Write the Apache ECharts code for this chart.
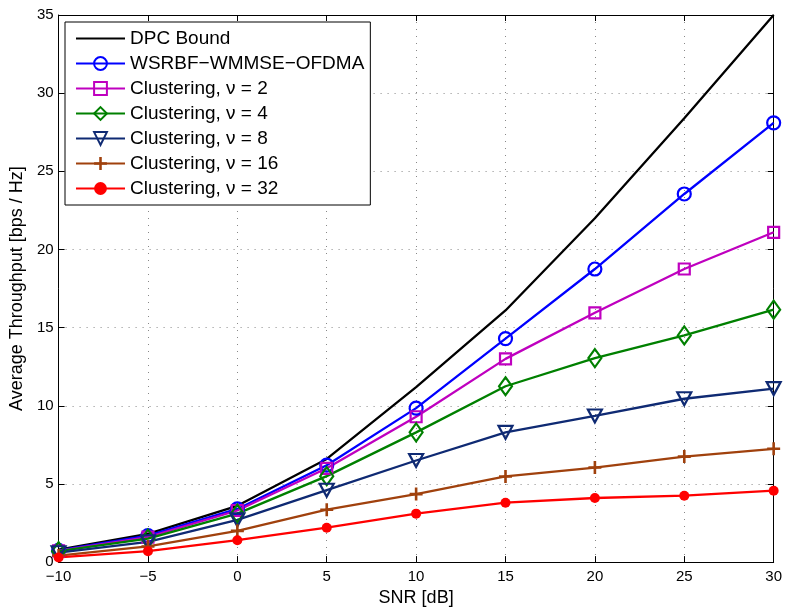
<!DOCTYPE html>
<html>
<head>
<meta charset="utf-8">
<script src="https://cdn.jsdelivr.net/npm/echarts@6/dist/echarts.min.js"></script>
<style>
html, body { margin: 0; padding: 0; background: #fff; }
#chart { width: 785px; height: 612px; }
</style>
</head>
<body>
<div id="chart"></div>
<script>
// SNR points (dB)
var snr = [-10, -5, 0, 5, 10, 15, 20, 25, 30];

var dpcBound = [0.8, 1.8, 3.6, 6.6, 11.2, 16.1, 22.0, 28.4, 35.0];
var wsrbf = [0.75, 1.7, 3.4, 6.2, 9.85, 14.3, 18.75, 23.55, 28.1];
var clust2 = [0.72, 1.6, 3.3, 6.0, 9.3, 13.0, 15.95, 18.75, 21.1];
var clust4 = [0.7, 1.5, 3.1, 5.5, 8.3, 11.25, 13.05, 14.5, 16.15];
var clust8 = [0.6, 1.3, 2.7, 4.6, 6.5, 8.3, 9.35, 10.45, 11.1];
var clust16 = [0.42, 1.0, 2.0, 3.35, 4.35, 5.48, 6.05, 6.75, 7.25];
var clust32 = [0.3, 0.7, 1.4, 2.2, 3.1, 3.8, 4.1, 4.25, 4.57];

var names = ["DPC Bound", "WSRBF\u2212WMMSE\u2212OFDMA", "Clustering, \u03bd = 2",
    "Clustering, \u03bd = 4", "Clustering, \u03bd = 8", "Clustering, \u03bd = 16", "Clustering, \u03bd = 32"];

var font = "Liberation Sans, Arial, sans-serif";
var plusPath = "path://M4,0H6V4H10V6H6V10H4V6H0V4H4Z";

function pairs(arr) {
    return arr.map((v, i) => [snr[i], v]);
}

function minus(v) {
    return String(v).replace("-", "\u2212");
}

function makeLine(name, data, color, symbol, size, hollow, rotate) {
    return {
        name: name,
        type: "line",
        data: pairs(data),
        symbol: symbol,
        symbolSize: size,
        symbolRotate: rotate || 0,
        showSymbol: symbol != "none",
        lineStyle: { color: color, width: 2.3 },
        itemStyle: hollow ? {
            color: "rgba(255,255,255,0)",
            borderColor: color,
            borderWidth: 2.2
        } : { color: color, borderWidth: 0 },
        emphasis: { disabled: true },
        z: 2
    };
}

var dotted = { show: true, lineStyle: { color: "#888", type: [1, 6], width: 1 } };

// legend entries; the DPC one has no marker
var legendData = names.map((n, i) => i == 0 ? { name: n, itemStyle: { opacity: 0 } } : { name: n });

var myChart = echarts.init(document.getElementById("chart"));
var option = {
    animation: false,
    backgroundColor: "#fff",
    textStyle: { fontFamily: font },
    grid: { left: 57, right: 8, top: 15, bottom: 43 },
    legend: {
        data: legendData,
        orient: "vertical",
        left: 65,
        top: 22,
        padding: [7, 6, 7, 10],
        itemWidth: 49,
        itemHeight: 16,
        itemGap: 6,
        backgroundColor: "#fff",
        borderColor: "#000",
        borderWidth: 1,
        textStyle: { fontSize: 19, color: "#000", fontFamily: font }
    },
    xAxis: [{
        type: "value",
        min: -10,
        max: 30,
        interval: 5,
        name: "SNR [dB]",
        nameLocation: "middle",
        nameGap: 23,
        nameTextStyle: { fontSize: 18, color: "#000" },
        axisLine: { onZero: false, lineStyle: { color: "#000", width: 1 } },
        axisTick: { inside: true, length: 6, lineStyle: { color: "#000" } },
        axisLabel: { fontSize: 15, color: "#000", margin: 7, formatter: minus },
        splitLine: dotted
    }, {
        type: "value",
        position: "top",
        min: -10,
        max: 30,
        interval: 5,
        axisLine: { show: true, onZero: false, lineStyle: { color: "#000", width: 1 } },
        axisTick: { inside: true, length: 6, lineStyle: { color: "#000" } },
        axisLabel: { show: false },
        splitLine: { show: false }
    }],
    yAxis: [{
        type: "value",
        min: 0,
        max: 35,
        interval: 5,
        name: "Average Throughput [bps / Hz]",
        nameLocation: "middle",
        nameGap: 29,
        nameTextStyle: { fontSize: 18, color: "#000" },
        axisLine: { show: true, onZero: false, lineStyle: { color: "#000", width: 1 } },
        axisTick: { show: true, inside: true, length: 6, lineStyle: { color: "#000" } },
        axisLabel: { fontSize: 15, color: "#000", margin: 5 },
        splitLine: dotted
    }, {
        type: "value",
        position: "right",
        min: 0,
        max: 35,
        interval: 5,
        axisLine: { show: true, onZero: false, lineStyle: { color: "#000", width: 1 } },
        axisTick: { show: true, inside: true, length: 6, lineStyle: { color: "#000" } },
        axisLabel: { show: false },
        splitLine: { show: false }
    }],
    series: [
        makeLine(names[0], dpcBound, "#000000", "none", 0, false),
        makeLine(names[1], wsrbf, "#0000ff", "circle", 13, true),
        makeLine(names[2], clust2, "#bf00bf", "rect", 11, true),
        makeLine(names[3], clust4, "#008000", "diamond", [13, 18], true),
        makeLine(names[4], clust8, "#0f2a73", "triangle", [14, 13], true, 180),
        makeLine(names[5], clust16, "#a0410d", plusPath, 13, false),
        makeLine(names[6], clust32, "#ff0000", "circle", 10, false)
    ]
};
myChart.setOption(option);
</script>
</body>
</html>
